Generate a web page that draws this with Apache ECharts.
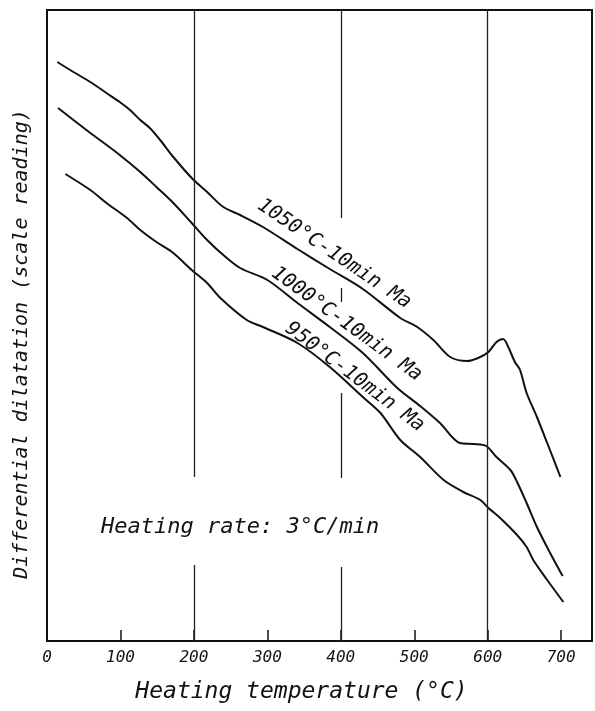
<!DOCTYPE html>
<html>
<head>
<meta charset="utf-8">
<script src="https://cdn.jsdelivr.net/npm/echarts@6/dist/echarts.min.js"></script>
<style>
html,body{margin:0;padding:0;background:#fff;}
#chart{width:595px;height:711px;}
</style>
</head>
<body>
<div id="chart"></div>
<script>
// X tick labels (°C)
const xTicks = [0, 100, 200, 300, 400, 500, 600, 700];
// Vertical guide lines
const guideX = [200, 400, 600];

// 1050°C-10min Ma
const temp1050 = [14, 36, 59, 81, 99, 113, 127, 140, 154, 172, 197, 218, 240, 263, 294, 341, 385, 430, 481, 504, 526, 549, 572, 587, 601, 612, 621, 628, 637, 644, 653, 667, 681, 699];
const dil1050  = [57.9, 56.9, 55.9, 54.8, 53.9, 53.1, 52.1, 51.3, 50.1, 48.4, 46.3, 44.9, 43.4, 42.6, 41.4, 39.2, 37.2, 35.2, 32.3, 31.4, 30.1, 28.4, 28.0, 28.3, 28.9, 29.9, 30.2, 29.4, 27.9, 27.1, 24.8, 22.4, 19.8, 16.4];

// 1000°C-10min Ma
const temp1000 = [15, 36, 59, 72, 99, 127, 149, 172, 197, 218, 240, 263, 300, 341, 385, 430, 477, 508, 535, 562, 581, 598, 612, 631, 640, 653, 667, 685, 702];
const dil1000  = [53.3, 52.1, 50.8, 50.1, 48.6, 46.9, 45.4, 43.8, 41.8, 40.1, 38.6, 37.3, 36.1, 33.8, 31.4, 28.8, 25.3, 23.5, 21.8, 19.8, 19.7, 19.5, 18.4, 17.1, 15.9, 13.8, 11.4, 8.8, 6.5];

// 950°C-10min Ma
const temp950 = [25, 59, 81, 109, 127, 149, 172, 197, 218, 236, 272, 294, 341, 385, 430, 454, 481, 508, 540, 567, 590, 601, 617, 640, 653, 662, 681, 703];
const dil950  = [46.7, 45.1, 43.8, 42.3, 41.1, 39.9, 38.8, 37.1, 35.8, 34.3, 32.1, 31.4, 29.8, 27.4, 24.4, 22.8, 20.1, 18.4, 16.1, 14.9, 14.1, 13.3, 12.3, 10.6, 9.4, 8.1, 6.1, 3.9];

const curveNames = ['1050°C-10min Ma', '1000°C-10min Ma', '950°C-10min Ma'];
const noteText = 'Heating rate: 3°C/min';
const xTitle = 'Heating temperature (°C)';
const yTitle = 'Differential dilatation (scale reading)';

// annotation anchors in data units
const labelAnchors = [[391, 38.7, -34], [408, 31.7, -36], [419, 26.4, -37]];
const noteAnchor = [263, 11.4];
// guide-line visible stretches (dilatation units)
const guideSegments = {
  200: [[0, 7.6], [16.4, 63.1]],
  400: [[0, 7.4], [16.3, 24.8], [33.9, 35.3], [42.3, 63.1]],
  600: [[0, 63.1]]
};

const FONT = 'DejaVu Sans Mono';
const ink = '#111';

function zip(a, b) { return a.map((v, i) => [v, b[i]]); }

const markData = [];
guideX.forEach(x => {
  guideSegments[x].forEach(s => {
    markData.push([{ coord: [x, s[0]] }, { coord: [x, s[1]] }]);
  });
});

const curveStyle = { color: ink, width: 2 };

const chart = echarts.init(document.getElementById('chart'), null, { renderer: 'canvas' });
chart.setOption({
  animation: false,
  backgroundColor: '#fff',
  grid: { left: 47, right: 3, top: 10, bottom: 70, show: true, borderColor: ink, borderWidth: 2, backgroundColor: 'transparent' },
  xAxis: {
    type: 'value', min: 0, max: 742, interval: 100,
    axisLine: { show: true, onZero: false, lineStyle: { color: ink, width: 2 } },
    axisTick: { show: true, inside: true, length: 11, lineStyle: { color: ink, width: 1.5 } },
    splitLine: { show: false },
    axisLabel: {
      fontFamily: FONT, fontStyle: 'italic', fontSize: 16, color: '#111', margin: 9,
      showMaxLabel: false,
      formatter: v => (xTicks.indexOf(v) >= 0 ? String(v) : '')
    },
    name: xTitle, nameLocation: 'middle', nameGap: 40,
    nameTextStyle: { fontFamily: FONT, fontStyle: 'italic', fontSize: 23, color: '#111', padding: [0, 36, 0, 0] }
  },
  yAxis: {
    type: 'value', min: 0, max: 63.1,
    axisLine: { show: true, onZero: false, lineStyle: { color: ink, width: 2 } },
    axisTick: { show: false }, axisLabel: { show: false }, splitLine: { show: false }
  },
  graphic: [{
    type: 'text', x: 22, y: 344, rotation: Math.PI / 2,
    style: { text: yTitle, fontFamily: FONT, fontStyle: 'italic', fontSize: 20, fill: '#111', align: 'center', verticalAlign: 'middle' }
  }],
  series: [
    {
      name: 'guides', type: 'line', data: [], silent: true,
      markLine: { silent: true, symbol: 'none', label: { show: false }, lineStyle: { color: '#222', width: 1.3, type: 'solid' }, data: markData }
    },
    { name: curveNames[0], type: 'line', data: zip(temp1050, dil1050), showSymbol: false, smooth: 0.3, lineStyle: curveStyle },
    { name: curveNames[1], type: 'line', data: zip(temp1000, dil1000), showSymbol: false, smooth: 0.3, lineStyle: curveStyle },
    { name: curveNames[2], type: 'line', data: zip(temp950, dil950), showSymbol: false, smooth: 0.3, lineStyle: curveStyle },
    {
      name: 'labels', type: 'scatter', symbolSize: 0, silent: true,
      itemStyle: { opacity: 1 },
      emphasis: { disabled: true },
      data: labelAnchors.map((a, i) => ({
        value: [a[0], a[1]],
        label: { show: true, formatter: curveNames[i], rotate: a[2] }
      })).concat([{ value: noteAnchor, label: { show: true, formatter: noteText, rotate: 0, fontSize: 22 } }]),
      label: { show: true, position: 'inside', align: 'center', verticalAlign: 'middle', fontFamily: FONT, fontStyle: 'italic', fontSize: 20, color: '#111', opacity: 1, textBorderWidth: 0 }
    }
  ]
});
</script>
</body>
</html>
